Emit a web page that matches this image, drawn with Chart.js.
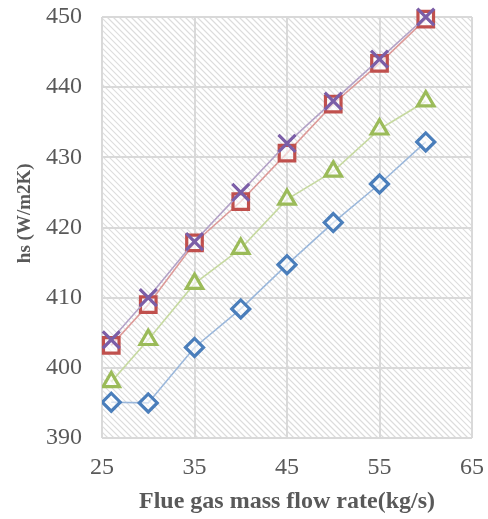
<!DOCTYPE html>
<html>
<head>
<meta charset="utf-8">
<script src="https://cdn.jsdelivr.net/npm/chart.js@4.4.0/dist/chart.umd.min.js"></script>
<style>
  body { margin: 0; background: #fff; }
  #wrap { width: 488px; height: 519px; }
</style>
</head>
<body>
<div id="wrap"><canvas id="chart" width="488" height="519"></canvas></div>
<script>
var flowRate = [26, 30, 35, 40, 45, 50, 55, 60];
var seriesDiamond = [395.1, 395.0, 402.9, 408.4, 414.7, 420.7, 426.2, 432.2];
var seriesTriangle = [398.0, 404.0, 412.0, 417.0, 424.0, 428.0, 434.0, 438.0];
var seriesSquare = [403.2, 409.0, 417.8, 423.7, 430.6, 437.6, 443.4, 449.7];
var seriesCross = [404.0, 410.0, 418.0, 425.0, 432.0, 438.0, 444.0, 450.0];

function pts(ys) {
    return flowRate.map(function(x, i){ return {x: x, y: ys[i]}; });
}

// diagonal hatch behind the plot
var hatch = {
    id: 'hatch',
    beforeDraw: function(chart) {
        var a = chart.chartArea, ctx = chart.ctx;
        ctx.save();
        ctx.beginPath();
        ctx.rect(a.left, a.top, a.right - a.left, a.bottom - a.top);
        ctx.clip();
        ctx.strokeStyle = '#dcdcdc';
        ctx.lineWidth = 1.2;
        var h = a.bottom - a.top;
        for (var s = a.left - h; s < a.right; s += 6) {
            ctx.beginPath();
            ctx.moveTo(s, a.top);
            ctx.lineTo(s + h, a.bottom);
            ctx.stroke();
        }
        ctx.restore();
    }
};

var tickFont = {family: 'Liberation Serif', size: 24};

new Chart(document.getElementById('chart'), {
    type: 'line',
    data: {
        datasets: [
            {
                data: pts(seriesCross),
                borderColor: '#b3a2c7',
                pointBorderColor: '#7b5ea7',
                pointStyle: 'crossRot',
                pointRadius: 12,
                pointBorderWidth: 3.2,
                borderWidth: 1.6,
                clip: false
            },
            {
                data: pts(seriesSquare),
                borderColor: '#dd9a98',
                pointBorderColor: '#c0504d',
                pointBackgroundColor: 'rgba(255,255,255,0.6)',
                pointStyle: 'rect',
                pointRadius: 11,
                pointBorderWidth: 3.2,
                borderWidth: 1.6,
                clip: false
            },
            {
                data: pts(seriesTriangle),
                borderColor: '#c6d9a0',
                pointBorderColor: '#9bbb59',
                pointBackgroundColor: 'rgba(255,255,255,0.6)',
                pointStyle: 'triangle',
                pointRadius: 9.5,
                pointBorderWidth: 3.2,
                borderWidth: 1.6
            },
            {
                data: pts(seriesDiamond),
                borderColor: '#9ab7db',
                pointBorderColor: '#4a7ebb',
                pointBackgroundColor: 'rgba(255,255,255,0.6)',
                pointStyle: 'rectRot',
                pointRadius: 9,
                pointBorderWidth: 3.2,
                borderWidth: 1.6
            }
        ]
    },
    options: {
        responsive: false,
        animation: false,
        layout: {autoPadding: false, padding: {top: 17, right: 16, left: 0, bottom: 0}},
        plugins: {legend: {display: false}, tooltip: {enabled: false}},
        scales: {
            x: {
                type: 'linear',
                min: 25, max: 65,
                afterFit: function(s){ s.height = 81; s.paddingLeft = 0; s.paddingRight = 0; },
                ticks: {stepSize: 10, color: '#595959', font: tickFont, padding: 15},
                grid: {color: '#d9d9d9', lineWidth: 2, drawTicks: false},
                border: {display: false},
                title: {display: true, text: 'Flue gas mass flow rate(kg/s)', color: '#595959',
                        font: {family: 'Liberation Serif', size: 24, weight: 'bold'}, padding: {bottom: 3}}
            },
            y: {
                min: 390, max: 450,
                afterFit: function(s){ s.width = 102; s.paddingTop = 0; s.paddingBottom = 0; },
                ticks: {stepSize: 10, color: '#595959', font: tickFont, padding: 20},
                grid: {color: '#d9d9d9', lineWidth: 2, drawTicks: false},
                border: {display: false},
                title: {display: true, text: '      hs (W/m2K)', color: '#595959',
                        font: {family: 'Liberation Serif', size: 19, weight: 'bold'}, padding: {top: 14}}
            }
        }
    },
    plugins: [hatch]
});
</script>
</body>
</html>
